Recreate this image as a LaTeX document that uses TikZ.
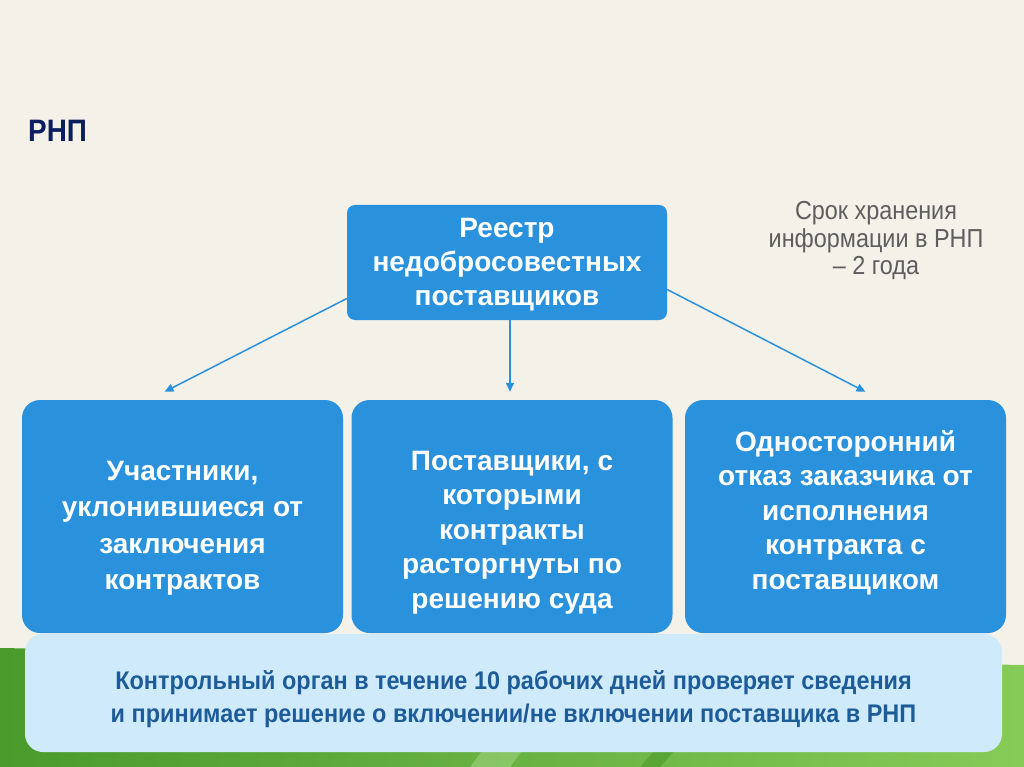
\documentclass[tikz,border=0pt]{standalone}
\usepackage{fontspec}
\setmainfont{Liberation Sans}
\newfontfamily\narrowfont[FakeStretch=0.9]{Liberation Sans}
\newfontfamily\ctrlfont[FakeStretch=0.92]{Liberation Sans}
\usepackage{tikz}
\usetikzlibrary{arrows.meta,calc}

\definecolor{slidebg}{HTML}{F4F1E9}
\definecolor{boxblue}{HTML}{2A91DC}
\definecolor{paleblue}{HTML}{CFEBFB}
\definecolor{ctrltext}{HTML}{1D5C99}
\definecolor{titlenavy}{HTML}{0B1F5E}
\definecolor{noteGray}{HTML}{5E5E5E}
\definecolor{grassdark}{HTML}{4A9A2C}
\definecolor{grasslight}{HTML}{86CB58}

\begin{document}
\begin{tikzpicture}[x=1pt, y=-1pt,
    bluebox/.style={fill=boxblue, minimum width=321pt, minimum height=233pt,
      inner sep=0pt, rounded corners=18pt},
    boxtext/.style={text=white, align=center, inner sep=0pt,
      font=\bfseries\fontsize{28}{34.5}\selectfont},
    arr/.style={boxblue, line width=1.5pt, -{Triangle[length=9pt,width=8pt]}}]
    % slide background
    \fill[slidebg] (0,0) rectangle (1024,767);
    \shade[left color=grassdark, right color=grasslight]
      (0,648) -- (1024,665) -- (1024,767) -- (0,767) -- cycle;
    \fill[grasslight!70!white, opacity=0.5] (470,767) -- (520,700) -- (560,700) -- (510,767) -- cycle;
    \fill[grassdark, opacity=0.6] (640,767) -- (700,700) -- (720,700) -- (660,767) -- cycle;
    % title and note
    \node[anchor=base west, inner sep=0pt, text=titlenavy,
      font=\narrowfont\bfseries\fontsize{31}{36}\selectfont] (title) at (28,142) {РНП};
    \node[align=center, text=noteGray, inner sep=0pt,
      font=\narrowfont\fontsize{26}{27.5}\selectfont] (term) at (876,241)
      {Срок хранения\\информации в РНП\\– 2 года};
    % register
    \node[bluebox, minimum width=320pt, minimum height=115pt, rounded corners=8pt]
      (reg) at (507,262.5) {};
    \node[boxtext, font=\bfseries\fontsize{28}{34}\selectfont] (regtext)
      at ([yshift=-2pt]reg.center) {Реестр\\недобросовестных\\поставщиков};
    % the three grounds
    \node[bluebox] (part) at (182.5,516.5) {};
    \node[boxtext, font=\bfseries\fontsize{28}{36.5}\selectfont] (parttext)
      at ([yshift=-12pt]part.center) {Участники,\\уклонившиеся от\\заключения\\контрактов};
    \node[bluebox] (court) at (512,516.5) {};
    \node[boxtext] (courttext) at ([yshift=-16pt]court.center)
      {Поставщики, с\\которыми\\контракты\\расторгнуты по\\решению суда};
    \node[bluebox] (refusal) at (845.5,516.5) {};
    \node[boxtext] (refusaltext) at ([yshift=4pt]refusal.center)
      {Односторонний\\отказ заказчика от\\исполнения\\контракта с\\поставщиком};
    % control body
    \node[fill=paleblue, rounded corners=18pt, minimum width=977pt, minimum height=118pt,
      inner sep=0pt] (ctrl) at (513.5,693) {};
    \node[align=center, text=ctrltext, inner sep=0pt,
      font=\ctrlfont\bfseries\fontsize{25.5}{33}\selectfont] (ctrltext)
      at ([yshift=-6pt]ctrl.center)
      {Контрольный орган в течение 10 рабочих дней проверяет сведения\\
       и принимает решение о включении/не включении поставщика в РНП};
    % arrows
    \draw[arr] ([yshift=-36pt]reg.west) -- ([xshift=-18pt,yshift=8pt]part.north);
    \draw[arr] (reg.south -| 510,0) -- ([xshift=-2pt,yshift=8pt]court.north);
    \draw[arr] ([yshift=-27pt]reg.east) -- ([xshift=20pt,yshift=8pt]refusal.north);
\end{tikzpicture}
\end{document}
